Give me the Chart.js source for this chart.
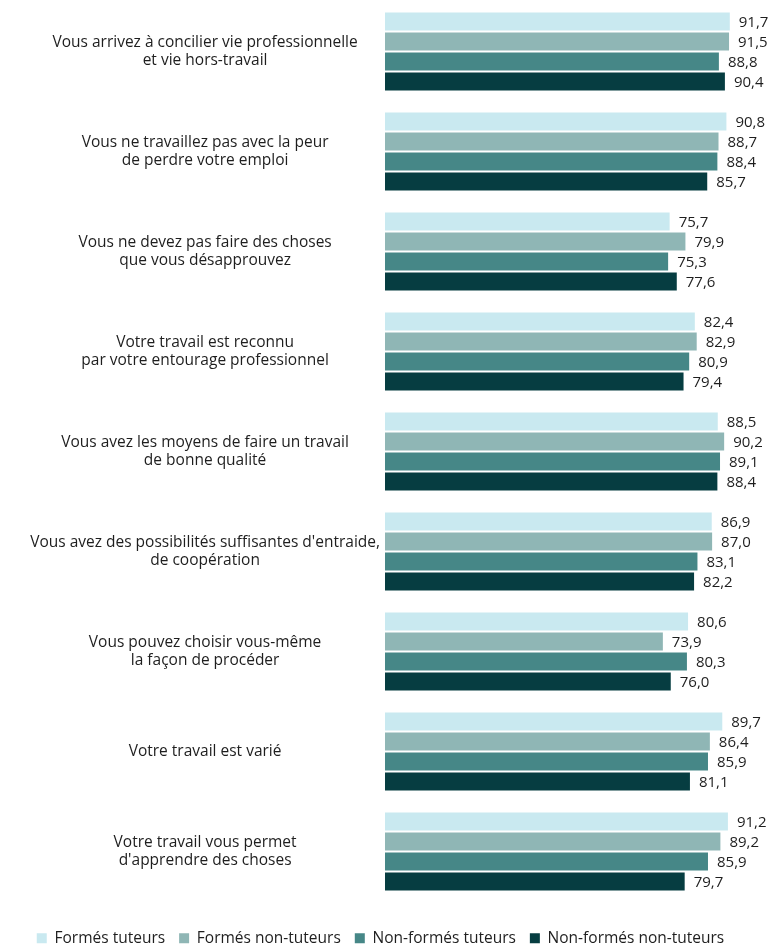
<!DOCTYPE html>
<html>
<head>
<meta charset="utf-8">
<script src="https://cdn.jsdelivr.net/npm/chart.js@4/dist/chart.umd.min.js"></script>
<style>
  html, body { margin: 0; padding: 0; background: #fff; }
  #wrap { width: 772px; height: 945px; position: relative; }
</style>
</head>
<body>
<div id="wrap"><canvas id="chartSatisfaction"></canvas></div>
<script>
const categories = [
    ['Vous arrivez à concilier vie professionnelle', 'et vie hors-travail'],
    ['Vous ne travaillez pas avec la peur', 'de perdre votre emploi'],
    ['Vous ne devez pas faire des choses', 'que vous désapprouvez'],
    ['Votre travail est reconnu', 'par votre entourage professionnel'],
    ['Vous avez les moyens de faire un travail', 'de bonne qualité'],
    ["Vous avez des possibilités suffisantes d'entraide,", 'de coopération'],
    ['Vous pouvez choisir vous-même', 'la façon de procéder'],
    'Votre travail est varié',
    ['Votre travail vous permet', "d'apprendre des choses"]
];

const formesTuteurs       = [91.7, 90.8, 75.7, 82.4, 88.5, 86.9, 80.6, 89.7, 91.2];
const formesNonTuteurs    = [91.5, 88.7, 79.9, 82.9, 90.2, 87.0, 73.9, 86.4, 89.2];
const nonFormesTuteurs    = [88.8, 88.4, 75.3, 80.9, 89.1, 83.1, 80.3, 85.9, 85.9];
const nonFormesNonTuteurs = [90.4, 85.7, 77.6, 79.4, 88.4, 82.2, 76.0, 81.1, 79.7];

const fontFamily = "'Open Sans', 'Noto Sans', sans-serif";

// valeurs a droite des barres
const valueLabels = {
    id: 'valueLabels',
    afterDatasetsDraw(chart) {
        const ctx = chart.ctx;
        ctx.save();
        ctx.font = '15px ' + fontFamily;
        ctx.fillStyle = '#1e1e1e';
        ctx.textAlign = 'left';
        ctx.textBaseline = 'middle';
        chart.data.datasets.forEach((ds, i) => {
            chart.getDatasetMeta(i).data.forEach((bar, j) => {
                const txt = ds.data[j].toFixed(1).replace('.', ',');
                ctx.fillText(txt, bar.x + 9, bar.y + 1);
            });
        });
        ctx.restore();
    }
};

const ctxSatisfaction = document.getElementById('chartSatisfaction');

const dataSatisfaction = {
    labels: categories,
    datasets: [{
        label: 'Formés tuteurs',
        backgroundColor: '#C9E9F0',
        data: formesTuteurs,
    }, {
        label: 'Formés non-tuteurs',
        backgroundColor: '#8FB6B5',
        data: formesNonTuteurs,
    }, {
        label: 'Non-formés tuteurs',
        backgroundColor: '#468787',
        data: nonFormesTuteurs,
    }, {
        label: 'Non-formés non-tuteurs',
        backgroundColor: '#063D41',
        data: nonFormesNonTuteurs,
    }]
};

const configSatisfaction = {
    type: 'bar',
    data: dataSatisfaction,
    plugins: [valueLabels],
    options: {
        indexAxis: 'y',
        maintainAspectRatio: false,
        responsive: true,
        animation: false,
        categoryPercentage: 0.8,
        barPercentage: 0.9,
        layout: {
            padding: { top: 1.5, right: 11, bottom: -11, left: 0 }
        },
        plugins: {
            tooltip: { enabled: false },
            legend: {
                position: 'bottom',
                labels: {
                    boxWidth: 10,
                    boxHeight: 10,
                    padding: 14,
                    color: '#1e1e1e',
                    font: { family: fontFamily, size: 15.5 }
                }
            }
        },
        scales: {
            x: {
                min: 0,
                max: 100,
                grid: { display: false },
                border: { display: false },
                ticks: { display: false },
                afterFit: s => { s.height = 15; s.paddingLeft = 0; s.paddingRight = 0; }
            },
            y: {
                grid: { display: false, drawTicks: false },
                border: { display: false },
                ticks: {
                    crossAlign: 'center',
                    padding: 5,
                    color: '#1e1e1e',
                    font: { family: fontFamily, size: 15.5, lineHeight: 1.2 }
                },
                afterFit: s => { s.width = 385; s.paddingTop = 0; s.paddingBottom = 0; }
            }
        }
    }
};

const barChartSatisfaction = new Chart(
    ctxSatisfaction,
    configSatisfaction
);
</script>
</body>
</html>
